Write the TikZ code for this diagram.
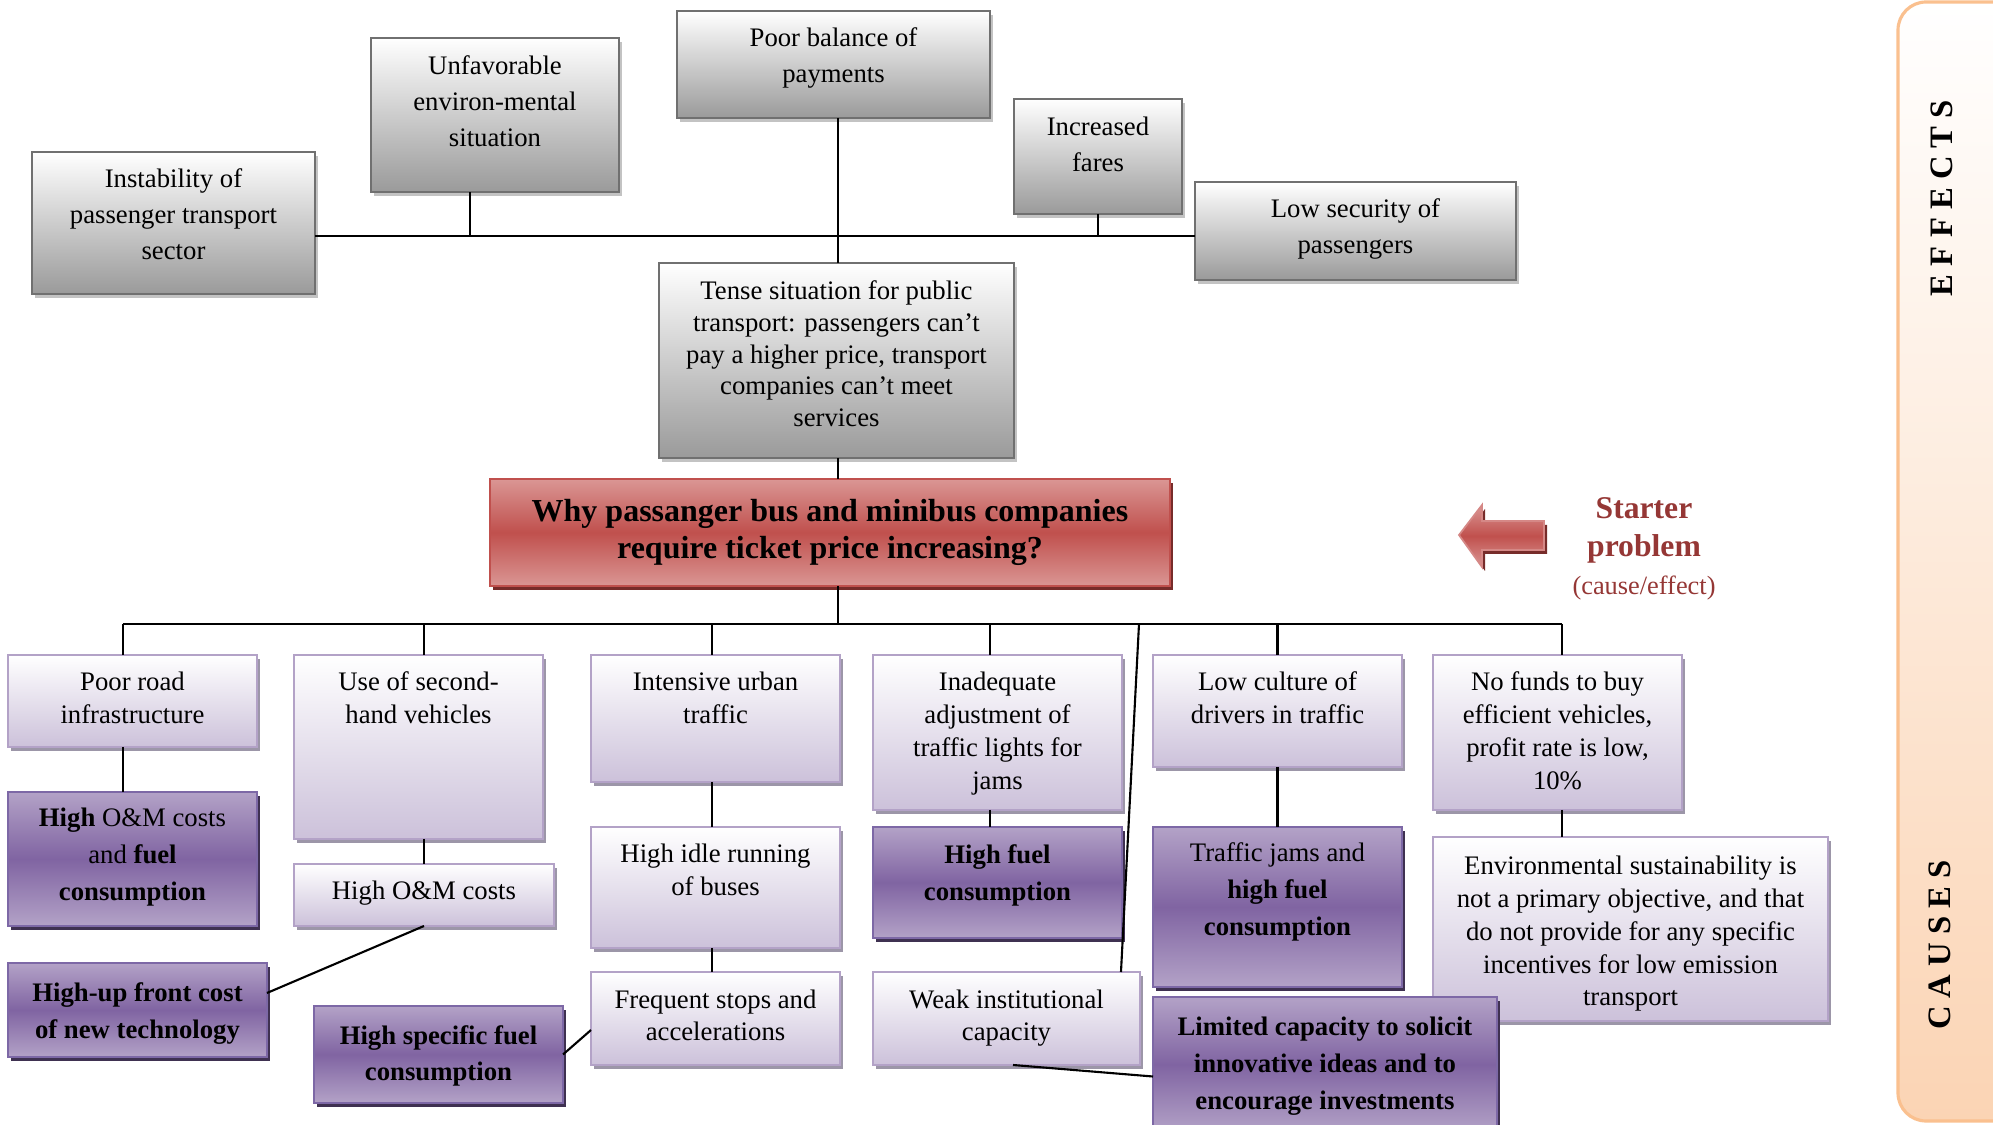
\documentclass[tikz,border=0pt]{standalone}
\usepackage{fontspec}
\setmainfont{Liberation Serif}
\usetikzlibrary{shadows}

% one drawing unit = 0.01cm
\newlength\pxu
\setlength\pxu{0.01cm}
% box body: width, height, first-baseline offset, text (top aligned, centred)
\newcommand\bt[4]{\parbox[c][#2\pxu][t]{#1\pxu}{\centering\rule{0pt}{#3\pxu}#4\par}}

\definecolor{gborder}{HTML}{707070}
\definecolor{gbot}{HTML}{9A9A9A}
\definecolor{gshadow}{HTML}{C3C3C3}
\definecolor{lborder}{HTML}{B3A2C7}
\definecolor{lbot}{HTML}{CCC1DA}
\definecolor{lshadow}{HTML}{9C96A8}
\definecolor{dlight}{HTML}{B3A2C7}
\definecolor{ddark}{HTML}{8064A2}
\definecolor{dborder}{HTML}{7D68A6}
\definecolor{dshadow}{HTML}{3F3151}
\definecolor{rlight}{HTML}{DA9694}
\definecolor{rdark}{HTML}{C0504D}
\definecolor{rborder}{HTML}{C0504D}
\definecolor{rshadow}{HTML}{772C2A}
\definecolor{startred}{HTML}{953735}
\definecolor{pborder}{HTML}{FAC08F}
\definecolor{pfill}{HTML}{FBD4B4}

\newcommand\gfont{\fontsize{7.6}{10.2}\selectfont}
\newcommand\lfont{\fontsize{7.6}{9.3}\selectfont}
\newcommand\dfont{\fontsize{7.6}{10.4}\selectfont}
\newcommand\rfont{\fontsize{9.1}{10.5}\selectfont\bfseries}

\tikzset{
  box/.style={inner sep=0pt, outer sep=0pt, anchor=north west, line width=0.6pt},
  gbox/.style={box, draw=gborder, top color=white, bottom color=gbot,
    drop shadow={shadow xshift=0.03cm, shadow yshift=-0.04cm, fill=gshadow, opacity=1},
    font=\gfont},
  lbox/.style={box, draw=lborder, top color=white, bottom color=lbot,
    drop shadow={shadow xshift=0.03cm, shadow yshift=-0.04cm, fill=lshadow, opacity=1},
    font=\lfont},
  dbox/.style={box, draw=dborder, top color=dlight, bottom color=dlight, middle color=ddark,
    drop shadow={shadow xshift=0.03cm, shadow yshift=-0.04cm, fill=dshadow, opacity=1},
    font=\dfont},
  rbox/.style={box, draw=rborder, top color=rlight, bottom color=rlight, middle color=rdark,
    drop shadow={shadow xshift=0.03cm, shadow yshift=-0.045cm, fill=rshadow, opacity=1},
    font=\rfont},
  conn/.style={line width=0.6pt, draw=black},
  sidepanel/.style={draw=pborder, line width=0.9pt, top color=white, bottom color=pfill,
    rounded corners=0.28cm},
  sidetext/.style={rotate=90, font=\fontsize{9.3}{11}\selectfont\bfseries},
  bigarrow/.style={draw=rlight!80!rdark, line width=0.5pt, top color=rlight, bottom color=rlight,
    middle color=rdark,
    drop shadow={shadow xshift=0.03cm, shadow yshift=-0.04cm, fill=rshadow, opacity=1}}
}

\begin{document}
\begin{tikzpicture}[x=0.01cm, y=-0.01cm]
\useasboundingbox (0,0) rectangle (1993,1125);

% side panel with the two section titles
\path[sidepanel] (1898,2) rectangle (2060,1121);
\node[sidetext] (effects) at (1942,198) {E F F E C T S};
\node[sidetext] (causes) at (1940,945) {C A U S E S};

% effects
\node[gbox] (inst) at (32,152) {\bt{283}{142}{36}{Instability of\\passenger transport\\sector}};
\node[gbox] (unfav) at (371,38) {\bt{248}{154}{37}{Unfavorable\\environ-mental\\situation}};
\node[gbox] (poorbal) at (677,11) {\bt{313}{107}{36}{Poor balance of\\payments}};
\node[gbox] (incfares) at (1014,99) {\bt{168}{115}{37}{Increased\\fares}};
\node[gbox] (lowsec) at (1195,182) {\bt{321}{98}{36}{Low security of\\passengers}};
\node[gbox] (tense) at (659,263) {\fontsize{7.6}{9}\selectfont\bt{355}{195}{37}{Tense situation for public\\transport: passengers can’t\\pay a higher price, transport\\companies can’t meet\\services}};

% starter problem
\node[rbox] (why) at (490,479) {\bt{680}{107}{43}{Why passanger bus and minibus companies\\require ticket price increasing?}};
\path[bigarrow] (1459,535) -- (1482,505) -- (1482,521) -- (1544,521) -- (1544,550)
  -- (1482,550) -- (1482,567) -- cycle;
\node[text=startred, align=center, font=\fontsize{9}{10.8}\selectfont] (starter) at (1644,549)
  {\textbf{Starter}\\\textbf{problem}\\{\fontsize{7.5}{9.2}\selectfont(cause/effect)}};

% causes, first level
\node[lbox] (poorroad) at (8,655) {\bt{249}{92}{36}{Poor road\\infrastructure}};
\node[lbox] (secondhand) at (294,655) {\bt{249}{184}{36}{Use of second-\\hand vehicles}};
\node[lbox] (intensive) at (591,655) {\bt{249}{127}{36}{Intensive urban\\traffic}};
\node[lbox] (inadequate) at (873,655) {\bt{249}{155}{36}{Inadequate\\adjustment of\\traffic lights for\\jams}};
\node[lbox] (lowculture) at (1153,655) {\bt{249}{112}{36}{Low culture of\\drivers in traffic}};
\node[lbox] (nofunds) at (1433,655) {\bt{249}{155}{36}{No funds to buy\\efficient vehicles,\\profit rate is low,\\10\%}};

% causes, deeper levels
\node[lbox] (highom) at (294,864) {\bt{260}{62}{36}{High O\&M costs}};
\node[lbox] (highidle) at (591,827) {\bt{249}{121}{36}{High idle running\\of buses}};
\node[lbox] (frequent) at (591,972) {\bt{249}{93}{36}{Frequent stops and\\accelerations}};
\node[lbox] (weak) at (873,972) {\bt{267}{93}{36}{Weak institutional\\capacity}};
\node[lbox] (env) at (1433,837) {\bt{395}{184}{38}{Environmental sustainability is\\not a primary objective, and that\\do not provide for any specific\\incentives for low emission\\transport}};

\node[dbox] (omfuel) at (8,792) {\bt{249}{134}{35}{\textbf{High} O\&M costs\\and \textbf{fuel}\\\textbf{consumption}}};
\node[dbox] (highup) at (8,963) {\bt{259}{94}{39}{\bfseries High-up front cost\\of new technology}};
\node[dbox] (specific) at (314,1006) {\bt{249}{97}{38}{\bfseries High specific fuel\\consumption}};
\node[dbox] (highfuel) at (873,827) {\bt{249}{111}{37}{\bfseries High fuel\\consumption}};
\node[dbox] (jams) at (1153,827) {\bt{249}{160}{35}{Traffic jams and\\\textbf{high fuel}\\\textbf{consumption}}};
\node[dbox] (limited) at (1153,997) {\bt{344}{135}{39}{\bfseries Limited capacity to solicit\\innovative ideas and to\\encourage investments}};

% bus lines
\coordinate (ebus) at (838,236);
\coordinate (cbus) at (838,624);
\coordinate (wk) at (1139,624);

% effects tree
\draw[conn] (ebus -| inst.east) -- (ebus -| lowsec.west);
\draw[conn] ([xshift=-0.25cm]unfav.south) -- ([xshift=-0.25cm]unfav.south |- ebus);
\draw[conn] (ebus |- poorbal.south) -- (ebus |- tense.north);
\draw[conn] (incfares.south) -- (incfares.south |- ebus);
\draw[conn] (ebus |- tense.south) -- (ebus |- why.north);

% causes tree
\draw[conn] (ebus |- why.south) -- (cbus);
\draw[conn] ([xshift=-0.095cm]cbus -| poorroad.north) -- ([xshift=0.045cm]cbus -| nofunds.north);
\foreach \n/\dx in {poorroad/-0.095, secondhand/0.055, intensive/-0.035,
                    inadequate/-0.075, lowculture/0, nofunds/0.045}
  \draw[conn] ([xshift=\dx cm]cbus -| \n.north) -- ([xshift=\dx cm]\n.north);
\draw[conn] ([xshift=-0.095cm]poorroad.south) -- ([xshift=-0.095cm]poorroad.south |- omfuel.north);
\draw[conn] (highom.north |- secondhand.south) -- (highom.north);
\draw[conn] (highom.south) -- ([yshift=0.17cm]highup.east);
\draw[conn] ([xshift=-0.035cm]intensive.south) -- ([xshift=-0.035cm]highidle.north);
\draw[conn] ([xshift=-0.035cm]highidle.south) -- ([xshift=-0.035cm]frequent.north);
\draw[conn] (specific.east) -- ([yshift=-0.115cm]frequent.west);
\draw[conn] ([xshift=-0.075cm]inadequate.south) -- ([xshift=-0.075cm]highfuel.north);
\draw[conn] (wk) -- ([xshift=-0.19cm]weak.north east);
\draw[conn] ([xshift=0.065cm]weak.south) -- ([yshift=-0.12cm]limited.west);
\draw[conn] (lowculture.south) -- (jams.north);
\draw[conn] ([xshift=0.045cm]nofunds.south) -- ([xshift=0.045cm]nofunds.south |- env.north);
\end{tikzpicture}
\end{document}
